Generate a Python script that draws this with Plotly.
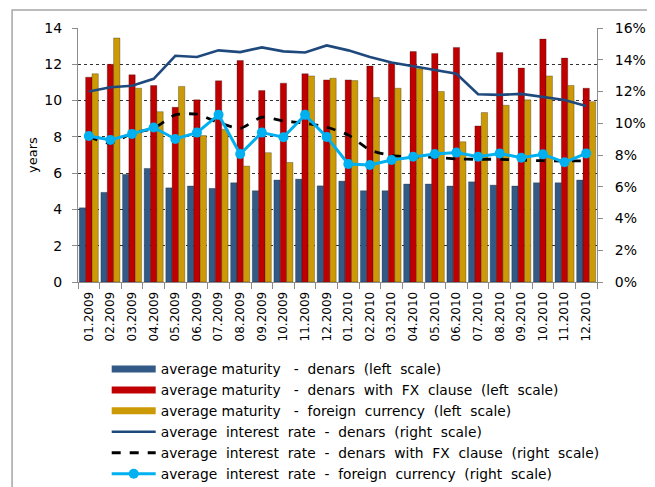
import plotly.graph_objects as go

categories = ["01.2009", "02.2009", "03.2009", "04.2009", "05.2009", "06.2009",
              "07.2009", "08.2009", "09.2009", "10.2009", "11.2009", "12.2009",
              "01.2010", "02.2010", "03.2010", "04.2010", "05.2010", "06.2010",
              "07.2010", "08.2010", "09.2010", "10.2010", "11.2010", "12.2010"]

maturity_denars = [4.09, 4.94, 5.93, 6.26, 5.19, 5.29, 5.16, 5.47, 5.03, 5.62, 5.67, 5.30,
                   5.56, 5.03, 5.03, 5.40, 5.40, 5.29, 5.52, 5.34, 5.29, 5.47, 5.47, 5.62]
maturity_fx_clause = [11.29, 12.00, 11.42, 10.83, 9.63, 10.04, 11.09, 12.21, 10.55, 10.96, 11.48, 11.14,
                      11.14, 11.90, 12.06, 12.70, 12.60, 12.93, 8.60, 12.65, 11.79, 13.39, 12.34, 10.68]
maturity_foreign = [11.48, 13.45, 10.68, 9.39, 10.78, 8.07, 8.42, 6.39, 7.13, 6.59, 11.36, 11.23,
                    11.10, 10.17, 10.68, 11.75, 10.50, 7.73, 9.34, 9.74, 10.04, 11.36, 10.83, 9.94]

rate_denars = [12.0, 12.27, 12.36, 12.8, 14.25, 14.17, 14.59, 14.48, 14.78, 14.53, 14.46, 14.9,
               14.59, 14.17, 13.83, 13.58, 13.37, 13.12, 11.83, 11.79, 11.85, 11.64, 11.47, 11.09]
rate_fx_clause = [9.16, 8.74, 9.37, 9.68, 10.53, 10.57, 10.04, 9.68, 10.38, 10.15, 10.0, 9.75,
                  9.26, 8.32, 7.96, 7.89, 7.85, 7.75, 7.73, 7.73, 7.68, 7.64, 7.62, 7.64]
rate_foreign = [9.2, 8.95, 9.33, 9.73, 9.01, 9.41, 10.53, 8.06, 9.41, 9.12, 10.53, 9.14,
                7.43, 7.37, 7.68, 7.89, 8.06, 8.15, 7.89, 8.1, 7.83, 8.04, 7.54, 8.1]

left_ticks = [0, 2, 4, 6, 8, 10, 12, 14]
right_ticks = [0, 2, 4, 6, 8, 10, 12, 14, 16]

legend_labels = ["average maturity   - denars (left scale)",
                 "average maturity   - denars with FX clause (left scale)",
                 "average maturity   - foreign currency (left scale)",
                 "average interest rate - denars (right scale)",
                 "average interest rate - denars with FX clause (right scale)",
                 "average interest rate - foreign currency (right scale)"]


def wide(s):
    # keep the wide word spacing of the original legend font
    return s.replace(" ", " \u00a0") if not s.startswith("average maturity") else \
        "average maturity" + " \u00a0\u00a0" + s[len("average maturity   "):].replace(" ", " \u00a0")


names = [wide(s) for s in legend_labels]

c_blue = "#335A86"
c_red = "#C00000"
c_gold = "#CC9A06"
c_line = "#1F497D"
c_cyan = "#00B0F0"

FONT = "DejaVu Sans"

fig = go.Figure()

for vals, col, nm in [(maturity_denars, c_blue, names[0]),
                      (maturity_fx_clause, c_red, names[1]),
                      (maturity_foreign, c_gold, names[2])]:
    fig.add_trace(go.Bar(x=categories, y=vals,
                         marker=dict(color=col, line=dict(width=0.6, color="rgba(0,0,0,0.45)")),
                         name=nm, showlegend=False, yaxis="y"))

# legend proxies for bars (wide bar-like symbols)
for col, nm in [(c_blue, names[0]), (c_red, names[1]), (c_gold, names[2])]:
    fig.add_trace(go.Scatter(x=[categories[0]], y=[None], mode="lines",
                             line=dict(color=col, width=7), name=nm, yaxis="y"))

fig.add_trace(go.Scatter(x=categories, y=rate_denars, mode="lines", name=names[3],
                         line=dict(color=c_line, width=2.6), yaxis="y2"))
fig.add_trace(go.Scatter(x=categories, y=rate_fx_clause, mode="lines", name=names[4],
                         line=dict(color="black", width=2.8, dash="dash", shape="spline", smoothing=0.6),
                         yaxis="y2"))
fig.add_trace(go.Scatter(x=categories, y=rate_foreign, mode="lines+markers", name=names[5],
                         line=dict(color=c_cyan, width=3), marker=dict(size=10, color=c_cyan),
                         yaxis="y2"))

fig.update_layout(
    width=647, height=479,
    margin=dict(l=70, r=58, t=20, b=205, autoexpand=False),
    paper_bgcolor="white", plot_bgcolor="white",
    font=dict(family=FONT, size=13, color="black"),
    barmode="group", bargap=0.12, bargroupgap=0.0,
    xaxis=dict(type="category", categoryorder="array", categoryarray=categories,
               range=[-0.5, len(categories) - 0.5], autorange=False,
               tickangle=-90, tickfont=dict(size=12, family=FONT), automargin=False,
               showline=True, linecolor="#8C8C8C", linewidth=1,
               ticks="outside", ticklen=6, tickcolor="#8C8C8C", tickson="boundaries",
               ticklabelstandoff=4,
               showgrid=False, zeroline=False),
    yaxis=dict(range=[0, 14], tickvals=left_ticks, ticktext=[str(v) for v in left_ticks],
               tickfont=dict(size=14, family=FONT), automargin=False,
               showline=True, linecolor="#8C8C8C", linewidth=1,
               ticks="outside", ticklen=5, tickcolor="#8C8C8C", ticklabelstandoff=7,
               showgrid=True, gridcolor="#333333", griddash="dot", gridwidth=1,
               zeroline=False,
               title=dict(text="years", font=dict(size=13, family=FONT), standoff=3)),
    yaxis2=dict(range=[0, 16], tickvals=right_ticks, ticktext=[f"{v}%" for v in right_ticks],
                tickfont=dict(size=14, family=FONT), automargin=False,
                overlaying="y", side="right",
                showline=True, linecolor="#8C8C8C", linewidth=1,
                ticks="outside", ticklen=5, tickcolor="#8C8C8C", ticklabelstandoff=9,
                showgrid=False, zeroline=False),
    legend=dict(x=0.0553, y=-0.2815, xanchor="left", yanchor="top",
                font=dict(size=13.8, family=FONT), bgcolor="rgba(0,0,0,0)",
                itemwidth=44,
                traceorder="normal", tracegroupgap=0),
    shapes=[dict(type="rect", xref="paper", yref="paper",
                 x0=-0.127, x1=1.3, y0=-1.2, y1=1.071,
                 line=dict(color="#A6A6A6", width=1.5), fillcolor="rgba(0,0,0,0)", layer="below")],
)

fig.write_html("out.html")
